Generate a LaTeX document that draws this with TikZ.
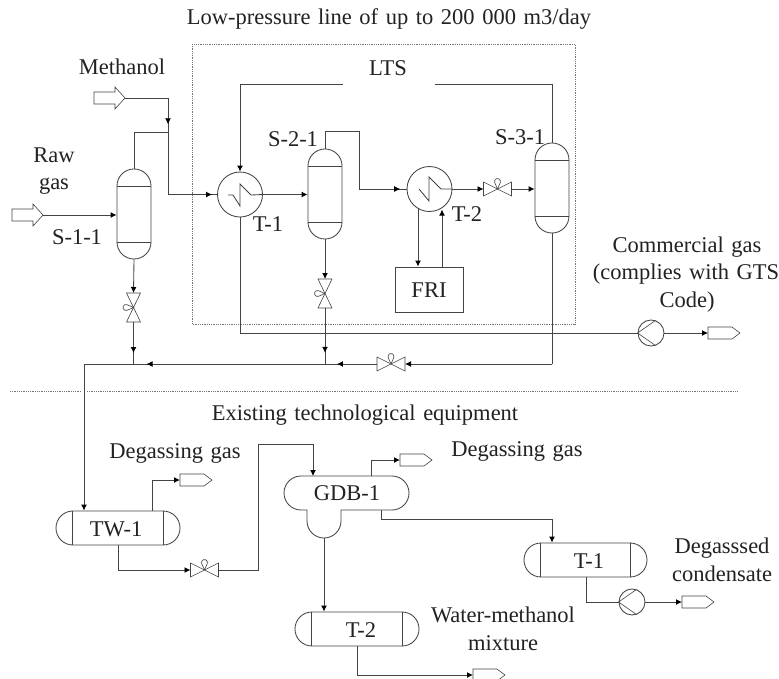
\documentclass[tikz,border=0pt]{standalone}
\usepackage{fontspec}
\setmainfont[WordSpace=1.35]{Liberation Serif}
\usetikzlibrary{arrows.meta,decorations.markings,calc}
\definecolor{ink}{HTML}{444444}
\definecolor{txt}{HTML}{222222}
\tikzset{
  x=1pt,y=-1pt,
  pipe/.style={draw=ink,line width=.85pt},
  thinpipe/.style={draw=ink,line width=.6pt},
  flow/.style={pipe,-{Latex[length=6pt,width=5.8pt,color=black]}},
  midtip/.style={postaction={decorate},decoration={markings,mark=at position #1 with {\arrow{Latex[length=6pt,width=5.8pt,color=black]}}}},
  equip/.style={draw=ink,line width=.85pt,inner sep=0pt},
  vvessel/.style={equip,rectangle,rounded corners=16.9pt,minimum width=34pt,minimum height=90pt},
  hvessel/.style={equip,rectangle,rounded corners=16.9pt,minimum height=34pt},
  disc/.style={equip,circle,minimum size=#1},
  ghost/.style={inner sep=0pt,outer sep=0pt},
  label/.style={text=txt,font=\fontsize{22.5}{27}\selectfont,inner sep=0pt,anchor=base},
  border/.style={draw=ink!75,line width=.8pt,densely dotted},
}
\newcommand{\vesseltrim}[1]{%
  \draw[pipe] ($(#1.north west)+(0,18)$) -- ($(#1.north east)+(0,18)$);
  \draw[pipe] ($(#1.south west)+(0,-17)$) -- ($(#1.south east)+(0,-17)$);}
\newcommand{\tanktrim}[1]{%
  \draw[pipe] ($(#1.north west)+(17,0)$) -- ($(#1.south west)+(17,0)$);
  \draw[pipe] ($(#1.north east)+(-17,0)$) -- ($(#1.south east)+(-17,0)$);}
\newcommand{\hvalve}[2]{%
  \node[ghost,minimum width=28pt,minimum height=14pt] (#1) at (#2) {};
  \draw[thinpipe] (#1.north west) -- (#1.south east) -- (#1.north east) -- (#1.south west) -- cycle;
  \draw[thinpipe] (#1.center) -- ++(-2.8,-6.4) arc[start angle=158,end angle=382,radius=3] -- cycle;}
\newcommand{\vvalve}[2]{%
  \node[ghost,minimum width=14pt,minimum height=29pt] (#1) at (#2) {};
  \draw[thinpipe] (#1.north west) -- (#1.north east) -- (#1.south west) -- (#1.south east) -- cycle;
  \draw[thinpipe] (#1.center) -- ++(-6.4,-2.8) arc[start angle=-68,end angle=-292,radius=3] -- cycle;}
\newcommand{\outlet}[2]{%
  \node[ghost,minimum width=32pt,minimum height=12pt] (#1) at (#2) {};
  \draw[thinpipe] (#1.north west) -- ($(#1.north east)+(-8,0)$) -- (#1.east) -- ($(#1.south east)+(-8,0)$) -- (#1.south west) -- cycle;}
\newcommand{\inlet}[2]{%
  \node[ghost,minimum width=31pt,minimum height=22pt] (#1) at (#2) {};
  \draw[thinpipe] ($(#1.west)+(0,-6)$) -- ($(#1.west)+(21,-6)$) -- ($(#1.west)+(21,-11)$) -- (#1.east) -- ($(#1.west)+(21,11)$) -- ($(#1.west)+(21,6)$) -- ($(#1.west)+(0,6)$) -- cycle;}
\newcommand{\pump}[2]{%
  \node[disc=26pt] (#1) at (#2) {};
  \draw[thinpipe] (#1.west) -- (#1.70) (#1.west) -- (#1.-70);}
\begin{document}
\begin{tikzpicture}
\useasboundingbox (0,0) rectangle (779,678);
\fill[white] (0,0) rectangle (779,678);
% borders
\draw[border] (192,44) rectangle (575,324);
\draw[border] (10,391) -- (82,391);
\draw[border] (87,391) -- (738,391);
% vessels
\node[vvessel] (s11) at (134,214) {};
\node[vvessel] (s21) at (325,194) {};
\node[vvessel] (s31) at (552,188) {};
\vesseltrim{s11}\vesseltrim{s21}\vesseltrim{s31}
% exchangers
\node[disc=45pt] (t1) at (240,194.5) {};
\node[disc=45pt] (t2) at (429.5,189) {};
\draw[pipe] (228,195) -- (233,195) -- (240,206) -- (240,184) -- (251,195) -- (t1.east);
\draw[pipe] (419,189) -- (429,201) -- (429,177) -- (441,189) -- (t2.east);
\node[equip,minimum width=68pt,minimum height=45pt] (fri) at (429,289.5) {};
% valves, pumps, terminals
\vvalve{v1}{133.5,307.5}
\vvalve{v2}{325,293.5}
\hvalve{v3}{391,364}
\hvalve{v4}{497.5,189}
\hvalve{v5}{204.5,570}
\inlet{meth}{109.5,98}
\inlet{raw}{27.5,215}
\pump{p1}{651,333}
\pump{p2}{632,602}
\outlet{o1}{724,333}
\outlet{o2}{196,480}
\outlet{o3}{416,460}
\outlet{o4}{698,602}
\outlet{o5}{489,675}
% lower vessels
\node[hvessel,minimum width=124pt] (tw) at (118,528) {};
\node[hvessel,minimum width=123pt] (tk1) at (585.5,560) {};
\node[hvessel,minimum width=124pt] (tk2) at (357,629) {};
\tanktrim{tw}\tanktrim{tk1}\tanktrim{tk2}
% GDB-1
\node[ghost,minimum width=125pt,minimum height=34pt] (gdb) at (346.5,493) {};
\coordinate (gdbs) at (324,538);
\draw[pipe] (301,476) -- (392,476) arc[start angle=-90,end angle=90,radius=17] -- (341,510)
  -- (341,521) arc[start angle=0,end angle=180,radius=17] -- (307,510) -- (301,510)
  arc[start angle=90,end angle=270,radius=17] -- cycle;
% junctions and routing points
\coordinate (jm) at (168,132);
\coordinate (ltsL) at (343,84);
\coordinate (ltsR) at (435,84);
\coordinate (j1) at (133.5,364);
\coordinate (j2) at (325,364);
\coordinate (r1) at (84,364);
\coordinate (t1in) at (168,194.5);
\coordinate (r2) at (552,364);
\coordinate (r3) at (359,131);
\coordinate (r4) at (359,189);
\coordinate (r5) at (240,333);
\coordinate (r6) at (258,570);
\coordinate (r7) at (258,444);
\coordinate (r8) at (381,519);
% upper pipes
\draw[pipe,midtip=.9] (meth.east) -| (jm);
\draw[pipe] (s11.north) |- (jm);
\draw[pipe,midtip=.955] (jm) -- (t1in) -- (t1.west);
\draw[flow] (raw.east) -- (raw.east -| s11.west);
\draw[flow] (s11.south) -- (v1.north);
\draw[pipe,midtip=.74] (v1.south) -- (j1);
\draw[flow] (r2) -- (v3.east);
\draw[pipe] (s31.south) -- (r2);
\draw[pipe,midtip=.77] (v3.west) -- (j2);
\draw[pipe,midtip=.932] (j2) -- (j1);
\draw[flow] (j1) -- (r1) -- (tw.north -| r1);
\draw[flow] (s21.south) -- (v2.north);
\draw[pipe,midtip=.8] (v2.south) -- (j2);
\draw[flow] (t1.east) -- (t1.east -| s21.west);
\draw[flow] (ltsL) -| (t1.north);
\draw[pipe] (ltsR) -| (s31.north);
\draw[pipe] (s21.north) |- (r3);
\draw[pipe,midtip=.94] (r3) -- (r4) -- (t2.west);
\draw[flow] (t2.east) -- (v4.west);
\draw[flow] (v4.east) -- (s31.west |- v4.east);
\draw[flow] (t2.center -| 418,0) ++(0,19.5) -- (fri.north -| 418,0);
\draw[flow] (fri.north -| 442,0) -- ++(0,-57);
\draw[pipe] (t1.south) -- (r5);
\draw[pipe] (r5) -- (p1.west);
\draw[flow] (p1.east) -- (o1.west);
% lower pipes
\draw[flow] (tw.north -| 152,0) |- (o2.west);
\draw[flow] (tw.south -| 118,0) |- (v5.west);
\draw[pipe] (v5.east) -- (r6) -- (r7);
\draw[flow] (r7) -| (gdb.north -| 313,0);
\draw[flow] (gdb.north -| 371,0) |- (o3.west);
\draw[pipe] (gdb.south -| 381,0) -- (r8);
\draw[flow] (r8) -| (tk1.north -| 552,0);
\draw[flow] (gdbs) -- (tk2.north -| 324,0);
\draw[pipe] (tk1.south -| 586,0) |- (p2.west);
\draw[flow] (p2.east) -- (o4.west);
\draw[flow] (tk2.south -| 357,0) |- (o5.west);
% labels
\node[label] (lt) at (389,24) {Low-pressure line of up to 200 000 m3/day};
\node[label] (llts) at (388,75) {LTS};
\node[label] (lm) at (122,74) {Methanol};
\node[label] (lr1) at (54,162) {Raw};
\node[label] (lr2) at (54,189) {gas};
\node[label] (ls1) at (77,244) {S-1-1};
\node[label] (ls2) at (293,146) {S-2-1};
\node[label] (ls3) at (520,144) {S-3-1};
\node[label] (lt1) at (268,231) {T-1};
\node[label] (lt2) at (467,221) {T-2};
\node[label] (lf) at (429,297) {FRI};
\node[label] (lc1) at (687,252) {Commercial gas};
\node[label] (lc2) at (686,279) {(complies with GTS};
\node[label] (lc3) at (687,307) {Code)};
\node[label] (le) at (365,420) {Existing technological equipment};
\node[label] (ld1) at (175,458) {Degassing gas};
\node[label] (ld2) at (517,456) {Degassing gas};
\node[label] (ltw) at (116,536) {TW-1};
\node[label] (lg) at (347,500) {GDB-1};
\node[label] (lk2) at (361,637) {T-2};
\node[label] (lk1) at (589,568) {T-1};
\node[label] (ld3) at (722,553) {Degasssed};
\node[label] (ld4) at (722,581) {condensate};
\node[label] (lw1) at (503,622) {Water-methanol};
\node[label] (lw2) at (503,650) {mixture};
\end{tikzpicture}
\end{document}
